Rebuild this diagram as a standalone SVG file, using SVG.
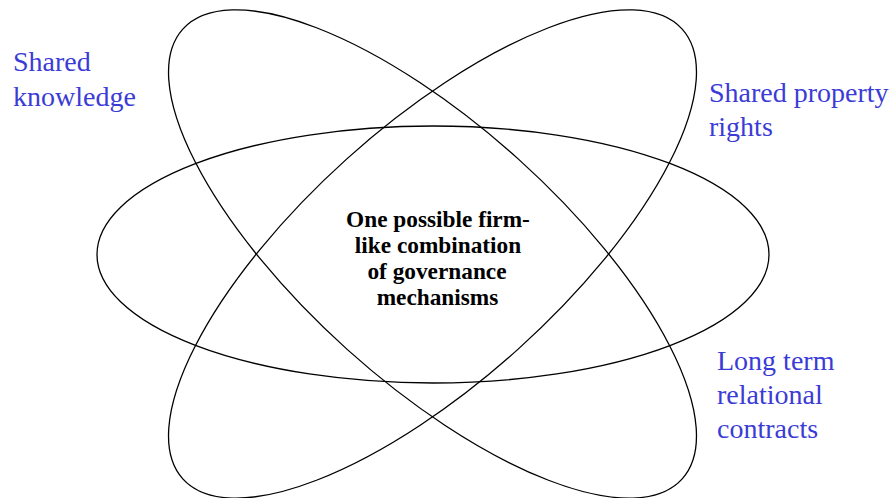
<svg xmlns="http://www.w3.org/2000/svg" width="893" height="498" viewBox="0 0 893 498">
<style>
.ring{fill:none;stroke:#000;stroke-width:1.3}
.lbl{font-family:"Liberation Serif","Times New Roman",serif;font-size:28px;fill:#3b3bd6}
.ctr{font-family:"Liberation Serif","Times New Roman",serif;font-size:23.3px;font-weight:bold;fill:#000;text-anchor:middle}
</style>
<rect width="893" height="498" fill="#fff"/>
<g id="connectors"></g>
<g id="ellipse-horizontal"><ellipse class="ring" cx="433" cy="254.5" rx="336" ry="128.5"/></g>
<g id="ellipse-tilt-a"><ellipse class="ring" cx="432.5" cy="254" rx="336" ry="128" transform="rotate(42 432.5 254)"/></g>
<g id="ellipse-tilt-b"><ellipse class="ring" cx="432.5" cy="254" rx="336" ry="128" transform="rotate(-42 432.5 254)"/></g>
<g id="label-knowledge"><text class="lbl" x="13" y="71">Shared</text><text class="lbl" x="13" y="106">knowledge</text></g>
<g id="label-property"><text class="lbl" x="709" y="102">Shared property</text><text class="lbl" x="709" y="136">rights</text></g>
<g id="label-contracts"><text class="lbl" x="717" y="370">Long term</text><text class="lbl" x="717" y="404">relational</text><text class="lbl" x="717" y="438">contracts</text></g>
<g id="center-text"><text class="ctr" x="438" y="227">One possible firm-</text><text class="ctr" x="438" y="253">like combination</text><text class="ctr" x="437" y="279">of governance</text><text class="ctr" x="437.5" y="305">mechanisms</text></g>
</svg>
